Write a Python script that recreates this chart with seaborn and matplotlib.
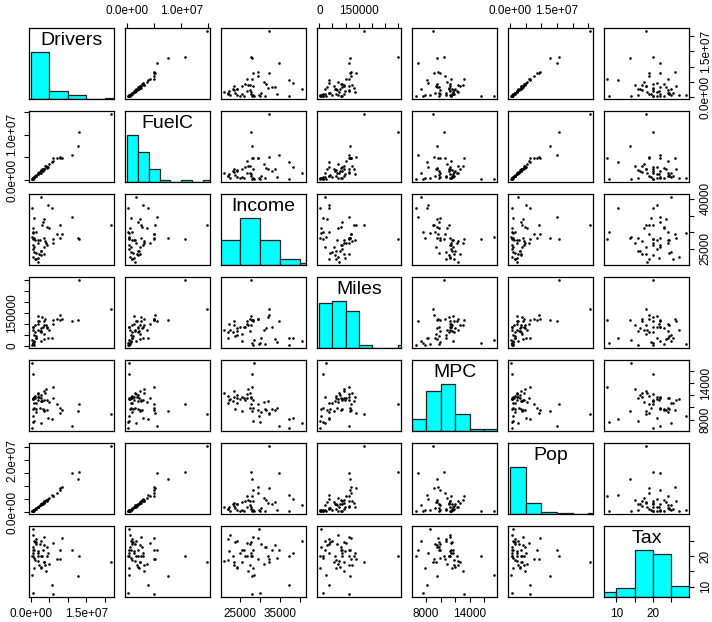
import matplotlib
matplotlib.use("Agg")
from matplotlib import pyplot as plt
import seaborn as sns
import numpy as np
import pandas as pd

# fuel consumption by state, 2001
states = ["AL", "AK", "AZ", "AR", "CA", "CO", "CT", "DE", "DC", "FL", "GA", "HI", "ID",
          "IL", "IN", "IA", "KS", "KY", "LA", "ME", "MD", "MA", "MI", "MN", "MS", "MO",
          "MT", "NE", "NV", "NH", "NJ", "NM", "NY", "NC", "ND", "OH", "OK", "OR", "PA",
          "RI", "SC", "SD", "TN", "TX", "UT", "VT", "VA", "WA", "WV", "WI", "WY"]
drivers = [3559897, 472211, 3550367, 1961883, 21623793, 3287922, 2650374, 563021, 349990,
           12743403, 5889336, 767046, 915633, 7923026, 3979318, 1969097, 1817018, 2715521,
           2787475, 944694, 3503451, 4578155, 6981200, 3032536, 1843620, 3950542, 688910,
           1219304, 1398233, 963318, 5739556, 1229939, 11100000, 5911055, 450733, 7897850,
           2296010, 2497870, 8370186, 667467, 2845287, 554219, 4249524, 13039234, 1499000,
           500000, 4976000, 4363000, 1303000, 3671000, 372000]
fuelc = [2382507, 235400, 2428430, 1358174, 14691753, 2048664, 1599700, 457255, 166111,
         7500000, 4882233, 433998, 665237, 5135560, 3083064, 1563802, 1316226, 2057087,
         2043380, 663640, 2476001, 2903760, 4985346, 2500400, 1485150, 3066045, 485637,
         914573, 927000, 643990, 3925455, 920800, 5500000, 4276002, 350080, 4958451,
         1889510, 1490000, 4978812, 401300, 2167700, 424000, 2951500, 10700000, 1119000,
         333000, 3663000, 2781000, 836000, 2535000, 331000]
income = [23471, 30064, 25578, 22257, 32275, 32949, 40640, 31255, 37383, 28145, 27940, 28221,
          24180, 32259, 26933, 26723, 27816, 24294, 23334, 25623, 33872, 38200, 29612, 32101,
          21005, 27445, 22569, 27829, 30180, 34280, 37200, 21931, 34700, 26882, 25068, 28207,
          23517, 27660, 29539, 29685, 24321, 26115, 26239, 27871, 23907, 27992, 31162, 31528,
          21915, 28232, 28460]
miles = [94440, 13628, 55245, 98132, 168771, 85854, 20910, 5814, 1534, 117000, 114783, 4300,
         46971, 138356, 93618, 113377, 134582, 78993, 60917, 22670, 30494, 35531, 121984,
         132009, 73302, 123264, 69591, 93008, 37000, 15469, 36022, 62745, 112783, 100800,
         86851, 116679, 112704, 65983, 119642, 6052, 65217, 83397, 87315, 300767, 42092,
         14263, 71279, 81110, 37163, 112362, 27327]
mpc = [12737, 7639, 9412, 11268, 8924, 9723, 7362, 9816, 6550, 9467, 13300, 7832, 10797,
       9062, 13060, 12263, 11658, 12060, 11118, 11782, 9519, 8300, 10564, 11118, 12400,
       12368, 11365, 11591, 9200, 9900, 8140, 11900, 6900, 11500, 11400, 9950, 11800, 9900,
       9600, 8600, 11600, 11500, 11300, 10500, 9800, 15560, 10900, 9500, 10700, 11300, 17400]
pop = [3451586, 457728, 3907526, 2072622, 25599275, 3322455, 2651215, 608565, 457729,
       12850000, 6208920, 941030, 992418, 9277566, 4588296, 2228730, 2014271, 3078011,
       3357262, 986889, 4083745, 5030000, 7558451, 3778165, 2096917, 4261302, 669226,
       1292961, 1550000, 970000, 6500000, 1400000, 14950000, 6180000, 480000, 8720000,
       2640000, 2680000, 9630000, 820000, 3120000, 570000, 4380000, 15620000, 1600000,
       480000, 5520000, 4600000, 1440000, 4180000, 390000]
tax = [18, 8, 18, 21.7, 18, 22, 25, 23, 20, 13.6, 7.5, 16, 25, 19, 15, 20, 21, 16.4, 20, 22,
       23.5, 21, 19, 20, 18.4, 17, 27, 24.5, 24, 19.5, 10.5, 18.9, 22, 24.2, 21, 22, 17, 24,
       26, 29, 16, 22, 20, 20, 24.5, 20, 17.5, 23, 25.5, 26.4, 14]

fuel = pd.DataFrame({"Drivers": drivers, "FuelC": fuelc, "Income": income, "Miles": miles,
                     "MPC": mpc, "Pop": pop, "Tax": tax}, index=states)
names = list(fuel.columns)

# histogram breaks (R's pretty breaks)
breaks = {"Drivers": np.arange(0, 2.5e7 + 1, 5e6),
          "FuelC": np.arange(0, 1.6e7 + 1, 2e6),
          "Income": np.arange(20000, 45001, 5000),
          "Miles": np.arange(0, 350001, 50000),
          "MPC": np.arange(6000, 18001, 2000),
          "Pop": np.arange(0, 3e7 + 1, 5e6),
          "Tax": np.arange(5, 31, 5)}
ticks = {"Drivers": [0, 5e6, 1e7, 1.5e7, 2e7],
         "FuelC": [0, 5e6, 1e7, 1.5e7],
         "Income": [25000, 30000, 35000, 40000],
         "Miles": [0, 50000, 100000, 150000, 200000, 250000, 300000],
         "MPC": [8000, 10000, 12000, 14000, 16000],
         "Pop": [0, 5e6, 1e7, 1.5e7, 2e7, 2.5e7],
         "Tax": [10, 15, 20, 25]}
xlabeled = {"Drivers": [0, 1.5e7], "FuelC": [0, 1e7], "Income": [25000, 35000],
            "Miles": [0, 150000], "MPC": [8000, 14000], "Pop": [0, 1.5e7], "Tax": [10, 20]}
ylabeled = {"Drivers": [0, 1.5e7], "FuelC": [0, 1e7], "Income": [25000, 40000],
            "Miles": [0, 150000], "MPC": [8000, 14000], "Pop": [0, 2e7], "Tax": [10, 20]}
sci = ["Drivers", "FuelC", "Pop"]

sns.set_style("white")
plt.rcParams["font.family"] = ["Liberation Sans", "DejaVu Sans"]
plt.rcParams.update({"text.color": "black", "xtick.color": "black", "ytick.color": "black",
                     "axes.labelcolor": "black"})


def fmt(name, v, shown):
    if v not in shown:
        return ""
    return f"{v:.1e}" if name in sci else f"{v:g}"


def lims(name):
    lo, hi = fuel[name].min(), fuel[name].max()
    r = hi - lo
    return lo - 0.04 * r, hi + 0.04 * r


def set_axis(ax, axis, name, side, shown):
    tk = ticks[name]
    labels = [fmt(name, v, shown) for v in tk]
    if axis == "x":
        ax.set_xticks(tk)
        ax.set_xticklabels(labels)
        ax.xaxis.set_ticks_position(side)
        ax.tick_params(axis="x", length=3.6, width=0.8, labelsize=8.5, pad=4,
                       direction="out", color="black", labelcolor="black")
    else:
        ax.set_yticks(tk)
        ax.set_yticklabels(labels, rotation=90, va="center")
        ax.yaxis.set_ticks_position(side)
        ax.tick_params(axis="y", length=3.6, width=0.8, labelsize=8.5, pad=4,
                       direction="out", color="black", labelcolor="black")


k = len(names)
fig, axes = plt.subplots(k, k, figsize=(7.12, 6.22), dpi=100)
fig.subplots_adjust(left=29 / 712, right=689 / 712, bottom=1 - 597 / 622, top=1 - 28 / 622,
                    wspace=0.13, hspace=0.17)

for i, yv in enumerate(names):
    for j, xv in enumerate(names):
        ax = axes[i, j]
        if i == j:
            step = breaks[xv][1] - breaks[xv][0]
            # shift edges a hair so bins are right-closed like R's hist
            edges = breaks[xv] + step * 1e-6
            counts, _ = np.histogram(fuel[xv], bins=edges)
            sns.histplot(x=fuel[xv], bins=edges, ax=ax, color="cyan", alpha=1,
                         edgecolor="#222222", linewidth=0.9)
            ax.set_ylim(0, counts.max() * 1.5)
            ax.text(0.5, 0.82, xv, transform=ax.transAxes, ha="center", va="center",
                    fontsize=14, color="black")
        else:
            sns.scatterplot(x=fuel[xv], y=fuel[yv], ax=ax, s=3.5, color="black",
                            linewidth=0, marker="o")
            ax.set_ylim(*lims(yv))
        ax.set_xlim(*lims(xv))
        ax.set_xlabel("")
        ax.set_ylabel("")
        ax.set_xticks([])
        ax.set_yticks([])
        for sp in ax.spines.values():
            sp.set_color("black")
            sp.set_linewidth(0.9)

        if i == 0 and j % 2 == 1:
            set_axis(ax, "x", xv, "top", xlabeled[xv])
        if i == k - 1 and j % 2 == 0:
            set_axis(ax, "x", xv, "bottom", xlabeled[xv])
        if j == 0 and i % 2 == 1:
            set_axis(ax, "y", yv, "left", ylabeled[yv])
        if j == k - 1 and i % 2 == 0:
            if i == j:
                tw = ax.twinx()
                tw.set_ylim(*lims(yv))
                for sp in tw.spines.values():
                    sp.set_visible(False)
                set_axis(tw, "y", yv, "right", ylabeled[yv])
            else:
                set_axis(ax, "y", yv, "right", ylabeled[yv])

plt.savefig("out.png", dpi=100)
